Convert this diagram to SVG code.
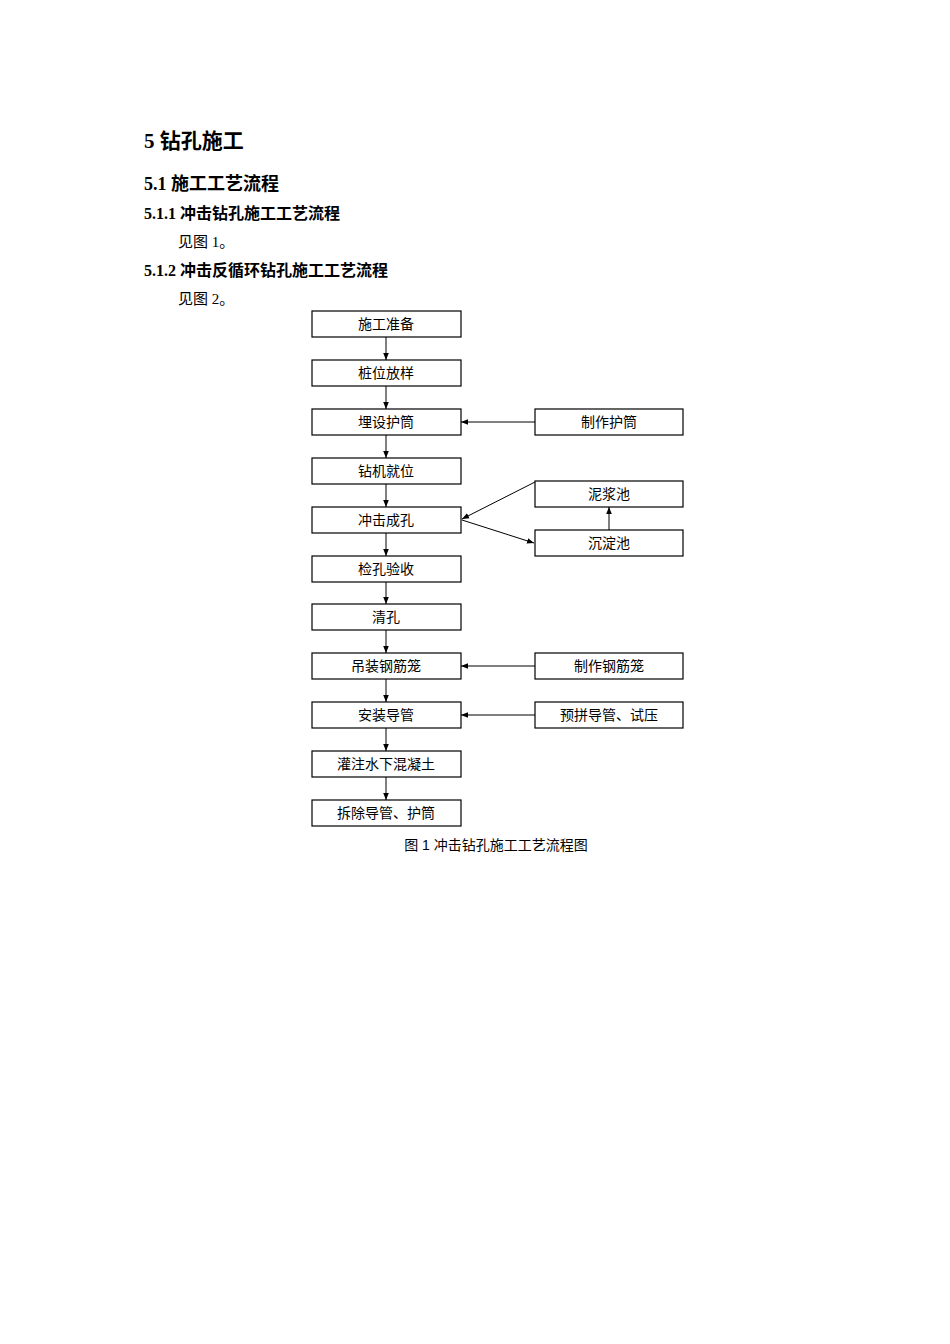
<svg xmlns="http://www.w3.org/2000/svg" width="950" height="1344" viewBox="0 0 950 1344">
<defs>
<style>
.h{font-family:"Liberation Serif","Noto Sans CJK SC",serif;font-weight:bold;fill:#000}
.p{font-family:"Liberation Serif","Noto Sans CJK SC",serif;font-size:15px;fill:#000}
.b rect{fill:#fff;stroke:#000;stroke-width:1.2}
.b text{font-family:"Liberation Sans","Noto Sans CJK SC",sans-serif;font-size:14px;text-anchor:middle;fill:#000}
.c line{stroke:#000;stroke-width:1;marker-end:url(#a)}
</style>
<marker id="a" viewBox="0 0 10 10" refX="10" refY="5" markerWidth="7" markerHeight="7" orient="auto"><path d="M0,1L10,5L0,9z" fill="#000"/></marker>
</defs>
<rect width="950" height="1344" fill="#fff"/>
<text class="h" x="144" y="148" font-size="21">5 钻孔施工</text>
<text class="h" x="144" y="190" font-size="18">5.1 施工工艺流程</text>
<text class="h" x="144" y="219" font-size="16">5.1.1 冲击钻孔施工工艺流程</text>
<text class="p" x="178" y="247">见图 1。</text>
<text class="h" x="144" y="276" font-size="16">5.1.2 冲击反循环钻孔施工工艺流程</text>
<text class="p" x="178" y="304">见图 2。</text>
<g id="n1" class="b"><rect x="312" y="311" width="149" height="26"/><text x="386" y="329">施工准备</text></g>
<g id="n2" class="b"><rect x="312" y="360" width="149" height="26"/><text x="386" y="378">桩位放样</text></g>
<g id="n3" class="b"><rect x="312" y="409" width="149" height="26"/><text x="386" y="427">埋设护筒</text></g>
<g id="n4" class="b"><rect x="312" y="458" width="149" height="26"/><text x="386" y="476">钻机就位</text></g>
<g id="n5" class="b"><rect x="312" y="507" width="149" height="26"/><text x="386" y="525">冲击成孔</text></g>
<g id="n6" class="b"><rect x="312" y="556" width="149" height="26"/><text x="386" y="574">检孔验收</text></g>
<g id="n7" class="b"><rect x="312" y="604" width="149" height="26"/><text x="386" y="622">清孔</text></g>
<g id="n8" class="b"><rect x="312" y="653" width="149" height="26"/><text x="386" y="671">吊装钢筋笼</text></g>
<g id="n9" class="b"><rect x="312" y="702" width="149" height="26"/><text x="386" y="720">安装导管</text></g>
<g id="n10" class="b"><rect x="312" y="751" width="149" height="26"/><text x="386" y="769">灌注水下混凝土</text></g>
<g id="n11" class="b"><rect x="312" y="800" width="149" height="26"/><text x="386" y="818">拆除导管、护筒</text></g>
<g id="r1" class="b"><rect x="535" y="409" width="148" height="26"/><text x="609" y="427">制作护筒</text></g>
<g id="r2" class="b"><rect x="535" y="481" width="148" height="26"/><text x="609" y="499">泥浆池</text></g>
<g id="r3" class="b"><rect x="535" y="530" width="148" height="26"/><text x="609" y="548">沉淀池</text></g>
<g id="r4" class="b"><rect x="535" y="653" width="148" height="26"/><text x="609" y="671">制作钢筋笼</text></g>
<g id="r5" class="b"><rect x="535" y="702" width="148" height="26"/><text x="609" y="720">预拼导管、试压</text></g>
<g id="connectors" class="c">
<line x1="386" y1="337" x2="386" y2="360"/>
<line x1="386" y1="386" x2="386" y2="409"/>
<line x1="386" y1="435" x2="386" y2="458"/>
<line x1="386" y1="484" x2="386" y2="507"/>
<line x1="386" y1="533" x2="386" y2="556"/>
<line x1="386" y1="582" x2="386" y2="604"/>
<line x1="386" y1="630" x2="386" y2="653"/>
<line x1="386" y1="679" x2="386" y2="702"/>
<line x1="386" y1="728" x2="386" y2="751"/>
<line x1="386" y1="777" x2="386" y2="800"/>
<line x1="535" y1="422" x2="461" y2="422"/>
<line x1="535" y1="482" x2="462" y2="519"/>
<line x1="462" y1="520" x2="534" y2="543"/>
<line x1="609" y1="530" x2="609" y2="507"/>
<line x1="535" y1="666" x2="461" y2="666"/>
<line x1="535" y1="715" x2="461" y2="715"/>
</g>
<text x="496" y="850" font-family="Liberation Sans,Noto Sans CJK SC,sans-serif" font-size="14" text-anchor="middle">图 1   冲击钻孔施工工艺流程图</text>
</svg>
